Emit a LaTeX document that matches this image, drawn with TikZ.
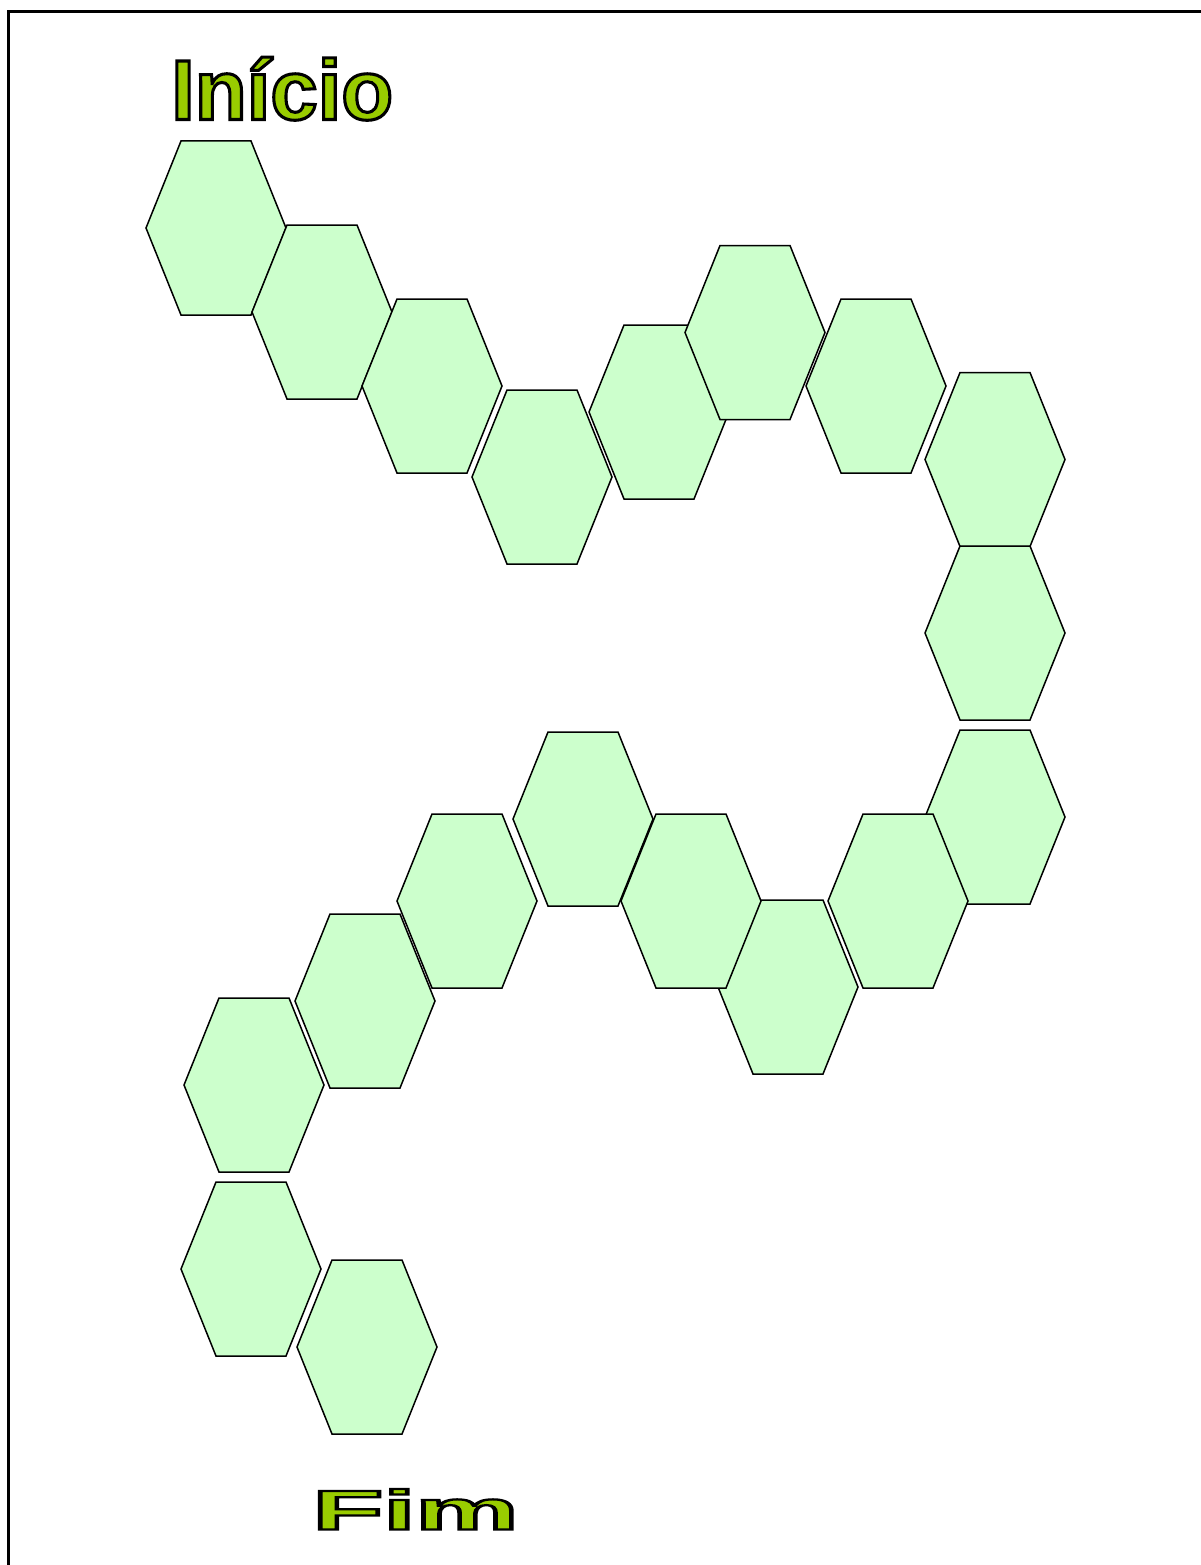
\documentclass[tikz,border=0pt]{standalone}
\usepackage{fontspec}
\setmainfont{Liberation Sans}
\newfontfamily\titlefont[FakeBold=3.6]{Liberation Sans Bold}
\newfontfamily\fimfont[FakeBold=4]{Liberation Sans Bold}
\newcommand\blackstroke{\special{pdf:literal direct 0 0 0 RG}}
\definecolor{hexfill}{HTML}{CCFFCC}
\definecolor{titlegreen}{HTML}{99CC00}
\tikzset{
  hexline/.style={draw=black, line width=1.5pt, fill=hexfill, line join=miter},
  hex/.pic={\path[hexline] (-35,-87)--(35,-87)--(70,0)--(35,87)--(-35,87)--(-70,0)--cycle;},
  titletext/.style={inner sep=0pt, text=titlegreen}
}
\begin{document}
\begin{tikzpicture}[x=1pt, y=-1pt]
\useasboundingbox (0,0) rectangle (1201,1565);
\fill[white] (0,0) rectangle (1201,1565);
\begin{scope}
\clip (0,0) rectangle (1201,1565);
\draw[line width=3pt] (8.5,11.5) rectangle (1220,1590);
\end{scope}
% hexagons in drawing order
\foreach \cx/\cy in {216/228, 322/312, 432/386, 542/477, 659/412, 755/332.5, 876/386, 995/459.5, 995/633, 995/817, 898/901, 788/987, 691/901, 583/819, 467/901, 365/1001, 254/1085, 251/1269, 367/1347}
  \pic at (\cx,\cy) {hex};
% titles
\node[titletext, anchor=base west, font=\fontsize{85}{90}\selectfont\titlefont] (inicio) at (171,119.5) {\blackstroke Início};
\node[titletext, anchor=base west, font=\fontsize{56}{60}\selectfont\fimfont, xscale=2.07, transform shape] (fim) at (312,1529.5) {\blackstroke Fim};
\end{tikzpicture}
\end{document}
